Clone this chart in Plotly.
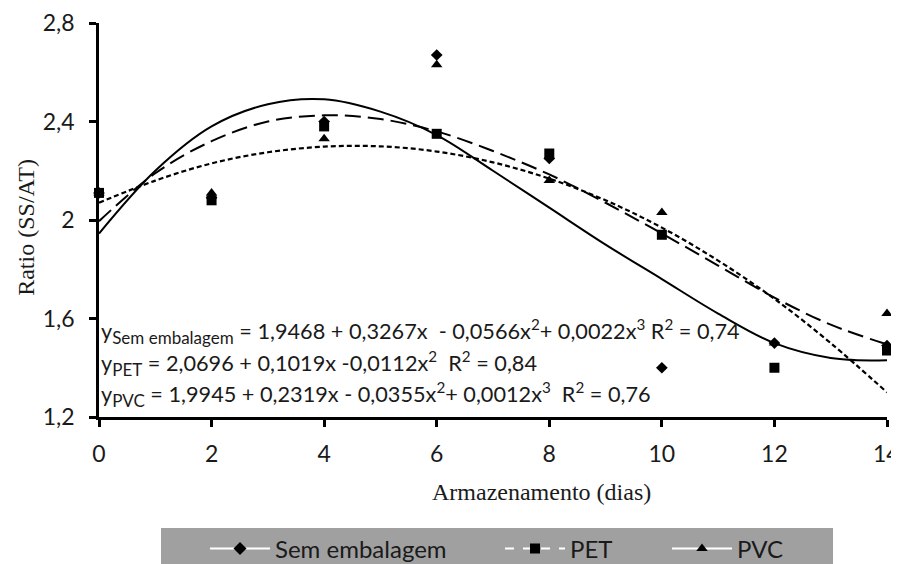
import plotly.graph_objects as go

# ---------------- data ----------------
days = [0, 2, 4, 6, 8, 10, 12, 14]
sem_embalagem = [2.11, 2.09, 2.40, 2.67, 2.25, 1.40, 1.50, 1.49]
pet = [2.11, 2.08, 2.38, 2.35, 2.27, 1.94, 1.40, 1.47]
pvc = [2.11, 2.11, 2.33, 2.63, 2.16, 2.03, 1.50, 1.62]

# fitted trend curves at every day
curve_days = [0, 1, 2, 3, 4, 5, 6, 7, 8, 9, 10, 11, 12, 13, 14]
curve_sem = [1.945, 2.20, 2.38, 2.47, 2.49, 2.44, 2.345, 2.20, 2.05, 1.90, 1.76, 1.62, 1.50, 1.44, 1.43]
curve_pet = [2.07, 2.16, 2.23, 2.275, 2.298, 2.299, 2.278, 2.234, 2.168, 2.08, 1.969, 1.835, 1.68, 1.50, 1.30]
curve_pvc = [1.995, 2.19, 2.32, 2.40, 2.425, 2.41, 2.36, 2.28, 2.185, 2.07, 1.945, 1.815, 1.685, 1.575, 1.495]

y_ticks = [1.2, 1.6, 2.0, 2.4, 2.8]
y_tick_text = ["1,2", "1,6", "2", "2,4", "2,8"]
x_ticks = [0, 2, 4, 6, 8, 10, 12, 14]
x_tick_text = ["0", "2", "4", "6", "8", "10", "12", "14"]

series_names = ["Sem embalagem", "PET", "PVC"]
SUB = '<sub><span style="font-size:17px">{}</span></sub>'
equations = [
    "y" + SUB.format("Sem embalagem") + " = 1,9468 + 0,3267x \u00a0- 0,0566x<sup>2</sup>+ 0,0022x<sup>3</sup> R<sup>2</sup> = 0,74",
    "y" + SUB.format("PET") + " = 2,0696 + 0,1019x -0,0112x<sup>2</sup> \u00a0R<sup>2</sup> = 0,84",
    "y" + SUB.format("PVC") + " = 1,9945 + 0,2319x - 0,0355x<sup>2</sup>+ 0,0012x<sup>3</sup> \u00a0R<sup>2</sup> = 0,76",
]
equation_y = [1.549, 1.419, 1.293]

# ---------------- figure ----------------
SANS = "Lato, 'Open Sans', sans-serif"
SERIF = "'Liberation Serif', 'DejaVu Serif', serif"
INK = "#1a1a1a"

fig = go.Figure()

# trend curves
fig.add_trace(go.Scatter(x=curve_days, y=curve_sem, mode="lines", line=dict(color="black", width=2, shape="spline"),
                         showlegend=False, hoverinfo="skip"))
fig.add_trace(go.Scatter(x=curve_days, y=curve_pet, mode="lines",
                         line=dict(color="black", width=2.2, shape="spline", dash="5px,3px"),
                         showlegend=False, hoverinfo="skip"))
fig.add_trace(go.Scatter(x=curve_days, y=curve_pvc, mode="lines",
                         line=dict(color="black", width=2, shape="spline", dash="16px,7px"),
                         showlegend=False, hoverinfo="skip"))

# observed points
fig.add_trace(go.Scatter(x=days, y=pet, mode="markers", marker=dict(symbol="square", size=10, color="black"),
                         showlegend=False, cliponaxis=False))
fig.add_trace(go.Scatter(x=days, y=pvc, mode="markers", marker=dict(symbol="triangle-up", size=10, color="black"),
                         showlegend=False, cliponaxis=False))
fig.add_trace(go.Scatter(x=days, y=sem_embalagem, mode="markers", marker=dict(symbol="diamond", size=9, color="black"),
                         showlegend=False, cliponaxis=False))

# legend entries (one legend per entry so each can sit where the reference shows it)
legend_styles = [("diamond", "solid", "legend"), ("square", "dash", "legend2"), ("triangle-up", "solid", "legend3")]
for name, (sym, dash, lg) in zip(series_names, legend_styles):
    fig.add_trace(go.Scatter(x=[None], y=[None], mode="lines+markers", name=name, legend=lg,
                             line=dict(color="white", width=2, dash=dash),
                             marker=dict(symbol=sym, size=10, color="black")))

for txt, yv in zip(equations, equation_y):
    fig.add_annotation(x=0, y=yv, xref="x", yref="y", text=txt, showarrow=False,
                       xanchor="left", yanchor="middle", xshift=0,
                       font=dict(family=SANS, size=21.7, color=INK))

# the last x tick label sits at the page edge: draw it as an annotation so it is not clipped
fig.add_annotation(x=x_ticks[-1], y=-0.091, xref="x", yref="paper", text=x_tick_text[-1], showarrow=False,
                   xanchor="center", yanchor="middle", xshift=-1,
                   font=dict(family=SANS, size=23, color=INK))

# axis titles
fig.add_annotation(x=0.562, y=-0.19, xref="paper", yref="paper", text="Armazenamento (dias)",
                   showarrow=False, xanchor="center", yanchor="middle",
                   font=dict(family=SERIF, size=24, color=INK))
fig.add_annotation(x=-0.093, y=0.482, xref="paper", yref="paper", text="Ratio (SS/AT)", textangle=-90,
                   showarrow=False, xanchor="center", yanchor="middle",
                   font=dict(family=SERIF, size=24, color=INK))

# grey legend band
fig.add_shape(type="rect", xref="paper", yref="paper", x0=0.0787, x1=0.9315, y0=-0.2817, y1=-0.40,
              fillcolor="#a0a0a0", line=dict(width=0), layer="below")

LEG = dict(orientation="h", yanchor="middle", y=-0.335, xanchor="left", bgcolor="rgba(0,0,0,0)",
           font=dict(family=SANS, size=24, color=INK), itemwidth=60)

# the page body has an 8px margin, so the figure is 8px smaller than the window
fig.update_layout(
    width=891, height=556, autosize=False,
    margin=dict(l=91, r=12, t=15, b=147, autoexpand=False),
    paper_bgcolor="white", plot_bgcolor="white",
    showlegend=True,
    legend=dict(LEG, x=(205 - 99) / 788),
    legend2=dict(LEG, x=(500 - 99) / 788),
    legend3=dict(LEG, x=(667 - 99) / 788),
    xaxis=dict(range=[0, 14], tickvals=x_ticks, ticktext=x_tick_text[:-1] + [""], showline=True,
               linecolor="black", linewidth=2.5, ticks="outside", ticklen=7, tickwidth=2.5, tickcolor="black",
               showgrid=False, zeroline=False, tickfont=dict(family=SANS, size=23, color=INK),
               ticklabelstandoff=8, ticklabeloverflow="allow"),
    yaxis=dict(range=[1.2, 2.8], tickvals=y_ticks, ticktext=y_tick_text, showline=True, linecolor="black",
               linewidth=2.5, ticks="outside", ticklen=7, tickwidth=2.5, tickcolor="black",
               showgrid=False, zeroline=False, tickfont=dict(family=SANS, size=23, color=INK),
               ticklabelstandoff=10, ticklabeloverflow="allow"),
)

fig.write_html("out.html")
